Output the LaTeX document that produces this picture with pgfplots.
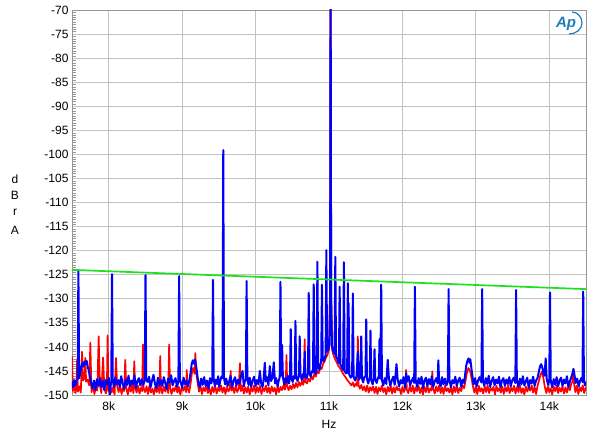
\documentclass[border=0pt]{standalone}
\usepackage{fontspec}
\setmainfont{Liberation Sans}
\usepackage{pgfplots}
\pgfplotsset{compat=1.18}
\usepackage{pgfplotstable}
\definecolor{apblue}{RGB}{0,0,250}
\definecolor{apred}{RGB}{255,0,0}
\definecolor{apgreen}{RGB}{30,225,30}
\definecolor{gridgray}{RGB}{195,195,195}
\definecolor{framegray}{RGB}{150,150,150}
\definecolor{logoblue}{RGB}{30,125,185}

\pgfplotstableread{
x y
7500 -147.2
7515 -148.4
7530 -146.9
7545 -148.0
7560 -147.1
7577 -146.8
7587 -124.0
7597 -146.5
7610 -145.6
7625 -144.3
7640 -143.4
7655 -144.1
7670 -143.0
7685 -143.6
7700 -142.9
7715 -144.2
7730 -145.0
7745 -146.3
7760 -147.4
7780 -148.6
7800 -147.0
7820 -148.9
7840 -146.7
7860 -148.1
7880 -146.5
7900 -148.4
7920 -147.1
7940 -149.0
7960 -146.9
7980 -147.8
8000 -146.4
8015 -150.0
8030 -147.6
8035 -147.2
8045 -124.9
8055 -146.8
8070 -148.3
8090 -146.3
8110 -147.8
8130 -146.9
8150 -148.3
8170 -146.1
8190 -147.6
8210 -148.7
8230 -146.8
8250 -147.9
8270 -146.0
8290 -148.2
8310 -147.0
8330 -147.8
8350 -145.9
8370 -148.5
8390 -147.2
8410 -146.5
8430 -148.0
8450 -146.7
8470 -147.9
8491 -147.0
8501 -125.1
8511 -146.8
8530 -147.3
8550 -146.2
8570 -148.4
8590 -147.0
8610 -145.8
8630 -147.7
8650 -148.6
8670 -146.4
8690 -147.9
8710 -146.9
8730 -148.1
8750 -146.3
8770 -147.5
8790 -148.8
8810 -146.6
8830 -147.4
8850 -145.9
8870 -148.0
8890 -147.1
8910 -146.5
8930 -148.3
8949 -147.2
8959 -125.3
8969 -146.7
8985 -147.6
9000 -148.5
9020 -146.4
9040 -147.8
9060 -147.0
9080 -148.2
9100 -146.8
9115 -145.4
9130 -143.6
9145 -142.8
9160 -143.5
9175 -142.6
9190 -143.9
9205 -145.7
9220 -147.3
9240 -148.4
9260 -146.6
9280 -147.9
9300 -146.3
9320 -148.1
9340 -147.0
9360 -148.7
9380 -146.5
9395 -147.6
9410 -146.9
9420 -126.1
9430 -146.6
9445 -148.2
9460 -146.8
9475 -147.7
9490 -146.1
9505 -148.3
9520 -147.0
9535 -146.2
9550 -146.5
9560 -99.1
9570 -146.4
9585 -147.8
9600 -146.6
9620 -148.1
9640 -147.2
9660 -146.0
9680 -148.4
9700 -147.1
9720 -146.3
9740 -148.0
9760 -146.8
9780 -147.6
9800 -146.2
9823 -145.0
9840 -148.2
9855 -147.0
9868 -146.9
9878 -126.3
9888 -146.6
9905 -147.9
9920 -146.4
9940 -148.3
9960 -147.0
9980 -146.2
10000 -148.1
10020 -146.9
10040 -147.8
10058 -145.0
10075 -147.5
10095 -148.4
10110 -146.7
10126 -143.3
10140 -147.2
10160 -146.3
10175 -148.0
10194 -144.0
10210 -147.1
10230 -146.4
10248 -143.2
10265 -147.6
10280 -146.5
10300 -148.2
10315 -147.0
10329 -146.4
10339 -126.5
10349 -146.0
10361 -139.6
10372 -146.3
10390 -147.8
10405 -146.5
10420 -147.4
10440 -146.0
10455 -147.6
10469 -146.2
10479 -136.3
10489 -146.5
10505 -147.3
10520 -146.1
10533 -146.6
10543 -134.6
10553 -146.0
10570 -147.1
10591 -146.0
10601 -137.8
10611 -145.8
10630 -146.9
10645 -145.6
10659 -146.2
10669 -141.0
10679 -145.7
10695 -146.6
10714 -145.5
10724 -128.8
10734 -145.4
10750 -146.2
10770 -145.0
10782 -145.3
10792 -127.0
10802 -144.9
10818 -145.6
10832 -144.4
10842 -122.3
10852 -144.0
10870 -144.8
10885 -143.5
10894 -143.2
10904 -127.1
10914 -142.8
10930 -143.0
10945 -142.1
10954 -141.8
10964 -119.9
10974 -141.0
10990 -140.6
11005 -139.5
11015 -130.0
11022 -60.0
11029 -130.0
11040 -139.8
11055 -140.9
11070 -141.2
11076 -141.5
11086 -121.3
11096 -142.0
11115 -142.6
11135 -143.4
11145 -127.5
11155 -143.6
11175 -144.3
11193 -144.8
11203 -122.4
11213 -145.0
11230 -145.5
11247 -145.2
11257 -126.8
11262 -145.5
11267 -130.9
11277 -145.8
11295 -146.4
11315 -145.9
11325 -128.9
11335 -146.2
11355 -147.0
11375 -146.1
11393 -141.0
11410 -146.8
11429 -146.0
11439 -137.8
11449 -146.5
11465 -147.4
11480 -146.3
11497 -146.1
11507 -134.3
11517 -146.7
11535 -147.6
11555 -146.2
11565 -136.6
11575 -146.9
11595 -147.8
11610 -146.4
11620 -140.5
11630 -146.8
11650 -147.5
11668 -146.3
11678 -146.5
11688 -138.4
11699 -146.6
11711 -127.1
11721 -146.9
11740 -148.0
11760 -146.5
11780 -147.7
11800 -142.7
11815 -146.4
11835 -148.1
11855 -147.0
11875 -146.2
11895 -147.9
11919 -143.6
11935 -146.8
11955 -148.2
11975 -146.9
11995 -147.6
12015 -146.3
12035 -148.4
12050 -145.5
12065 -147.2
12085 -146.1
12105 -148.0
12125 -147.1
12145 -146.4
12160 -147.5
12170 -127.5
12180 -146.8
12200 -148.3
12220 -146.5
12240 -147.7
12260 -146.2
12280 -148.6
12300 -147.0
12320 -146.4
12340 -148.1
12360 -146.7
12380 -147.8
12400 -146.1
12420 -148.3
12440 -147.2
12460 -146.5
12479 -147.6
12489 -142.8
12499 -146.9
12520 -148.2
12540 -146.3
12560 -147.8
12580 -146.6
12600 -148.0
12619 -147.1
12629 -128.0
12639 -146.7
12660 -148.4
12680 -146.9
12700 -147.6
12720 -146.2
12740 -148.1
12760 -147.0
12780 -146.4
12800 -148.3
12820 -146.8
12840 -147.5
12855 -145.6
12870 -143.8
12885 -142.9
12900 -142.4
12915 -143.3
12925 -142.6
12940 -144.5
12955 -146.3
12970 -147.8
12990 -146.5
13010 -148.2
13030 -147.0
13050 -146.3
13076 -147.4
13086 -128.0
13096 -146.9
13115 -148.1
13135 -146.5
13155 -147.7
13175 -146.0
13195 -148.3
13215 -147.1
13235 -146.3
13255 -148.0
13275 -146.8
13295 -147.6
13315 -146.2
13335 -148.4
13355 -147.0
13375 -146.5
13395 -148.1
13415 -146.8
13435 -147.7
13455 -146.3
13475 -148.2
13495 -147.0
13515 -146.4
13538 -147.5
13548 -128.2
13558 -146.8
13580 -148.3
13600 -146.6
13620 -147.8
13640 -146.1
13660 -148.0
13680 -147.2
13700 -146.4
13720 -148.5
13740 -146.9
13760 -147.6
13780 -146.2
13800 -148.1
13820 -147.0
13840 -146.5
13860 -145.0
13875 -144.0
13890 -143.6
13905 -144.3
13920 -145.5
13935 -146.0
13951 -142.4
13965 -146.7
13985 -147.9
14000 -146.8
14010 -128.7
14020 -147.0
14040 -148.4
14060 -146.7
14080 -147.9
14100 -146.3
14120 -148.2
14140 -147.0
14160 -146.4
14180 -148.1
14200 -146.8
14220 -147.6
14240 -146.1
14260 -148.3
14280 -147.2
14300 -146.3
14315 -145.5
14330 -144.6
14345 -146.0
14360 -147.5
14380 -146.6
14400 -148.2
14420 -147.0
14440 -146.4
14452 -147.3
14462 -128.5
14472 -146.9
14485 -148.0
14500 -147.2
}\bluedata

\pgfplotstableread{
x y
7500 -142.0
7512 -149.2
7530 -148.0
7548 -149.6
7560 -148.5
7570 -142.6
7580 -149.3
7600 -148.2
7620 -149.5
7637 -141.0
7650 -147.0
7672 -146.5
7682 -142.3
7692 -147.2
7710 -146.8
7735 -148.0
7750 -139.1
7765 -149.4
7785 -148.1
7805 -149.8
7825 -148.4
7845 -149.1
7863 -137.8
7880 -148.0
7900 -149.6
7923 -142.2
7940 -148.3
7960 -149.7
7975 -148.6
7985 -137.6
7998 -149.2
8018 -148.0
8040 -149.5
8060 -148.4
8080 -150.0
8099 -142.3
8115 -148.2
8135 -149.4
8155 -148.0
8175 -149.8
8195 -148.5
8210 -149.2
8225 -142.7
8240 -148.6
8260 -149.9
8280 -148.3
8300 -149.3
8320 -147.9
8336 -149.6
8348 -143.0
8360 -148.4
8380 -149.5
8400 -148.1
8420 -149.7
8440 -148.5
8456 -149.2
8466 -139.5
8476 -148.6
8495 -149.4
8515 -148.2
8535 -149.8
8555 -148.0
8575 -149.5
8595 -148.7
8615 -149.9
8635 -148.3
8655 -149.4
8675 -148.1
8691 -149.6
8701 -141.9
8711 -148.5
8730 -149.7
8750 -148.2
8770 -149.3
8790 -148.0
8810 -149.6
8823 -139.5
8835 -148.4
8855 -149.8
8875 -148.6
8895 -149.2
8915 -148.0
8935 -149.5
8955 -148.3
8975 -149.9
8995 -148.5
9015 -149.1
9035 -148.2
9053 -149.4
9063 -144.8
9073 -148.6
9095 -149.5
9115 -147.6
9135 -145.2
9150 -144.4
9170 -145.6
9180 -141.3
9190 -145.0
9210 -147.4
9230 -149.3
9250 -148.1
9270 -149.8
9290 -148.4
9310 -149.2
9330 -148.0
9350 -149.6
9370 -148.6
9390 -149.9
9410 -148.3
9430 -149.4
9450 -148.1
9470 -149.7
9490 -148.5
9510 -149.2
9530 -148.0
9550 -149.5
9570 -148.4
9590 -149.8
9610 -148.2
9630 -149.3
9651 -148.6
9661 -145.0
9671 -149.1
9690 -148.3
9710 -149.6
9730 -148.0
9750 -149.4
9770 -148.7
9787 -143.4
9800 -149.2
9820 -148.1
9840 -149.7
9860 -148.4
9880 -149.5
9900 -148.2
9920 -149.9
9940 -148.5
9960 -149.3
9980 -148.0
10000 -149.6
10020 -148.3
10040 -149.4
10060 -148.1
10080 -149.8
10100 -148.6
10120 -149.2
10140 -148.0
10160 -149.5
10180 -148.4
10200 -149.7
10220 -148.2
10240 -149.3
10260 -148.5
10280 -149.9
10300 -148.1
10320 -149.4
10340 -148.3
10360 -149.0
10380 -148.0
10400 -148.9
10411 -147.8
10421 -141.7
10431 -148.2
10450 -149.0
10470 -148.1
10490 -148.8
10510 -147.7
10530 -148.6
10550 -147.5
10570 -148.4
10590 -147.3
10610 -148.1
10630 -147.2
10650 -147.9
10659 -147.0
10669 -138.4
10679 -147.3
10700 -147.6
10720 -146.6
10740 -147.2
10760 -146.1
10780 -146.8
10800 -145.6
10820 -146.2
10840 -145.0
10860 -145.5
10880 -144.2
10900 -144.6
10920 -143.5
10940 -143.0
10960 -142.2
10980 -141.6
11000 -140.5
11012 -130.0
11022 -60.0
11032 -130.0
11045 -140.8
11065 -141.9
11085 -142.6
11105 -143.2
11125 -143.9
11145 -144.3
11165 -144.8
11185 -145.4
11205 -145.9
11225 -146.3
11245 -146.8
11265 -147.2
11285 -147.6
11305 -148.0
11325 -147.4
11345 -148.3
11365 -147.6
11383 -148.1
11393 -137.8
11403 -148.0
11420 -148.7
11440 -147.9
11460 -149.0
11480 -148.2
11500 -149.3
11520 -148.0
11540 -149.5
11560 -148.4
11580 -149.1
11600 -148.2
11620 -149.6
11640 -148.3
11660 -149.8
11680 -148.5
11700 -149.2
11720 -148.0
11740 -149.4
11760 -148.6
11780 -149.9
11800 -148.3
11820 -149.3
11840 -148.1
11860 -149.7
11880 -148.4
11900 -149.5
11920 -148.2
11940 -149.0
11960 -148.6
11980 -149.8
12000 -148.3
12020 -149.4
12040 -148.5
12050 -144.8
12060 -148.9
12080 -149.6
12100 -148.2
12120 -149.3
12140 -148.0
12160 -149.7
12180 -148.4
12200 -149.2
12220 -148.1
12240 -149.6
12260 -148.5
12280 -149.9
12300 -148.3
12320 -149.4
12340 -148.0
12360 -149.5
12380 -148.6
12397 -149.1
12407 -145.1
12417 -148.5
12440 -149.7
12460 -148.2
12480 -149.3
12500 -148.0
12520 -149.6
12540 -148.4
12560 -149.8
12580 -148.1
12600 -149.2
12620 -148.6
12640 -149.5
12660 -148.3
12680 -149.9
12700 -148.2
12720 -149.4
12740 -148.0
12760 -149.6
12780 -148.5
12800 -149.2
12820 -148.0
12840 -148.6
12860 -147.0
12880 -145.2
12900 -144.4
12920 -145.0
12940 -146.4
12960 -148.2
12980 -149.5
13000 -148.3
13020 -149.8
13040 -148.1
13060 -149.3
13080 -148.6
13100 -149.7
13120 -148.2
13140 -149.4
13160 -148.0
13180 -149.6
13200 -148.5
13220 -149.1
13240 -148.3
13260 -149.9
13280 -148.1
13300 -149.2
13320 -148.6
13340 -149.5
13360 -148.2
13380 -149.8
13400 -148.4
13420 -149.3
13440 -148.0
13460 -149.6
13480 -148.5
13500 -149.2
13520 -148.1
13540 -149.7
13560 -148.3
13580 -149.4
13600 -148.0
13620 -149.6
13640 -148.6
13660 -149.9
13680 -148.2
13700 -149.3
13720 -148.5
13740 -149.1
13760 -148.0
13780 -149.5
13800 -148.3
13820 -149.8
13840 -148.1
13860 -147.0
13880 -145.8
13900 -145.2
13920 -146.5
13940 -148.4
13960 -149.6
13980 -148.2
14000 -149.4
14020 -148.6
14040 -149.9
14060 -148.3
14080 -149.2
14100 -148.0
14120 -149.6
14140 -148.5
14160 -149.3
14180 -148.1
14200 -149.7
14220 -148.4
14240 -149.5
14260 -148.2
14280 -149.0
14300 -147.6
14316 -147.2
14326 -144.6
14336 -147.5
14355 -149.4
14375 -148.1
14395 -149.8
14415 -148.4
14435 -149.2
14455 -148.0
14475 -149.6
14500 -148.3
}\reddata

\begin{document}
\begin{tikzpicture}
\begin{axis}[
  at={(0,0)}, anchor=south west,
  scale only axis, width=514pt, height=385pt,
  xmin=7500, xmax=14500, ymin=-150, ymax=-70,
  scaled x ticks=false, scaled y ticks=false,
  xtick={8000,9000,10000,11000,12000,13000,14000},
  xticklabels={8k,9k,10k,11k,12k,13k,14k},
  ytick={-150,-145,-140,-135,-130,-125,-120,-115,-110,-105,-100,-95,-90,-85,-80,-75,-70},
  yticklabels={-150,-145,-140,-135,-130,-125,-120,-115,-110,-105,-100,-95,-90,-85,-80,-75,-70},
  minor y tick num=9,
  xtick pos=bottom, ytick pos=left, tick align=inside,
  xtick style={draw=none},
  ytick style={framegray, line width=0.4pt},
  major tick length=0pt, minor tick length=4pt,
  grid=major,
  major grid style={gridgray, line width=0.8pt},
  axis line style={framegray, line width=0.8pt},
  ticklabel style={font=\fontsize{12}{13}\selectfont, text=black},
  xticklabel style={yshift=-3pt},
  clip=true,
]
\addplot[apred, line width=1.7pt, line join=round, mark=none] table[x=x,y=y] {\reddata};
\addplot[apblue, line width=2.0pt, line join=round, mark=none] table[x=x,y=y] {\bluedata};
\addplot[apgreen, line width=1.7pt, mark=none] coordinates {(7500,-124) (14500,-128)};
\end{axis}
\node[font=\fontsize{12}{13}\selectfont] at (257pt,-29pt) {Hz};
\node[font=\fontsize{12}{13}\selectfont] at (-57pt,216pt) {d};
\node[font=\fontsize{12}{13}\selectfont] at (-57pt,200pt) {B};
\node[font=\fontsize{12}{13}\selectfont] at (-57pt,183pt) {r};
\node[font=\fontsize{12}{13}\selectfont] at (-57pt,165pt) {A};
\node[text=logoblue, font=\fontsize{15}{15}\selectfont\bfseries\itshape] at (494pt,371pt) {Ap};
\draw[logoblue, line width=1.2pt] (500pt,383pt) to[out=0,in=90] (510pt,372pt) to[out=-90,in=0] (497pt,361pt);
\pgfresetboundingbox
\path[use as bounding box] (-72pt,-43pt) rectangle (528pt,395pt);
\end{tikzpicture}
\end{document}
